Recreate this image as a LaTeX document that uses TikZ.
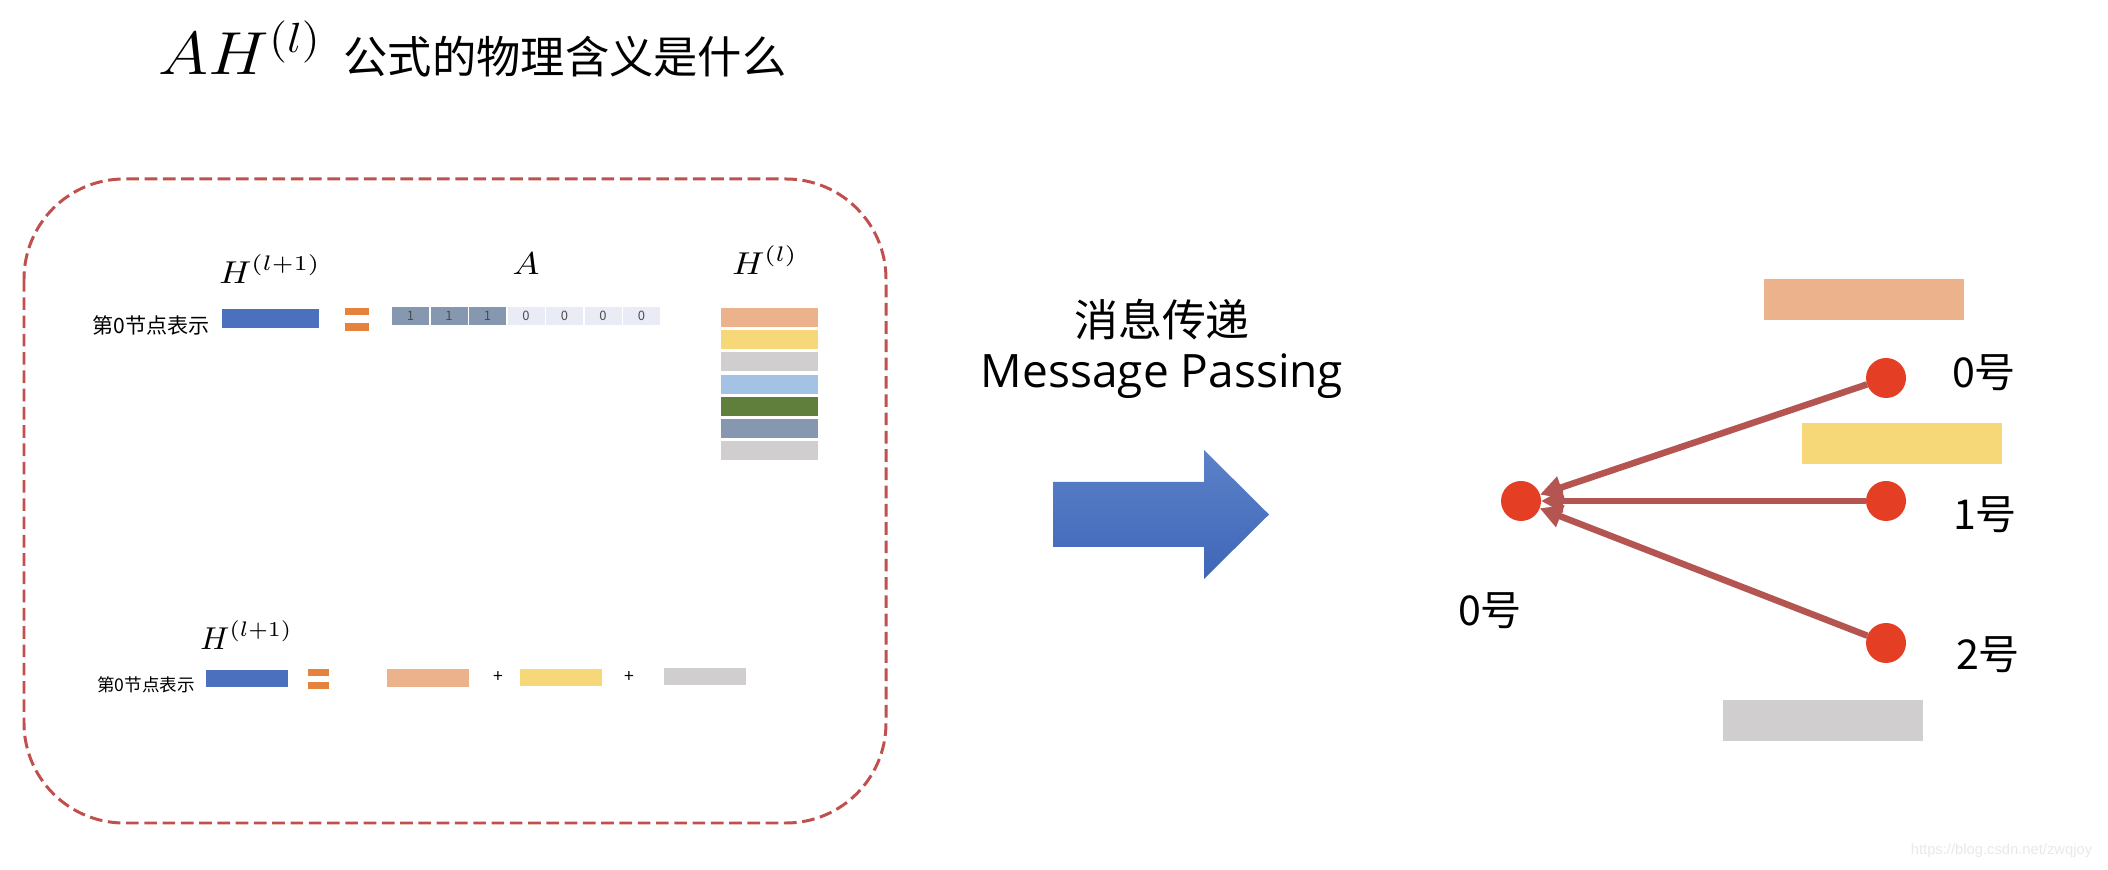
\documentclass[tikz,border=0pt]{standalone}
\usepackage{fontspec}
\newfontfamily\cjk{Noto Sans CJK SC}
\newfontfamily\latinsans{Open Sans}
\newfontfamily\wmfont{Liberation Sans}
\usetikzlibrary{arrows.meta}
\definecolor{barblue}{RGB}{74,112,190}
\definecolor{eqorange}{RGB}{228,130,62}
\definecolor{hpeach}{RGB}{235,178,140}
\definecolor{hyellow}{RGB}{247,216,120}
\definecolor{hgray}{RGB}{208,206,206}
\definecolor{hsky}{RGB}{164,194,227}
\definecolor{hgreen}{RGB}{96,127,60}
\definecolor{hslate}{RGB}{134,151,176}
\definecolor{celllight}{RGB}{233,235,245}
\definecolor{framered}{RGB}{192,80,77}
\definecolor{nodered}{RGB}{228,62,37}
\definecolor{edgered}{RGB}{181,85,82}
\definecolor{arrowtop}{RGB}{92,129,200}
\definecolor{arrowbot}{RGB}{62,103,184}
\tikzset{
  flat/.style={
    rectangle,
    inner sep=0pt,
    outer sep=0pt
  },
  feat-bar/.style={flat, minimum width=0.97cm, minimum height=0.19cm},
  sum-bar/.style={flat, minimum width=0.82cm, minimum height=0.175cm},
  big-bar/.style={flat, minimum width=2.0cm, minimum height=0.41cm},
  eq-bar/.style={flat, fill=eqorange, minimum width=0.24cm, minimum height=0.075cm},
  cell/.style={flat, minimum width=0.37cm, minimum height=0.18cm,
    text=black!70, font=\cjk\fontsize{3.7}{4}\selectfont},
  cell-dark/.style={cell, fill=hslate},
  cell-light/.style={cell, fill=celllight},
  math-label/.style={inner sep=0pt, anchor=base, font=\fontsize{8.6}{10}\selectfont},
  row-label/.style={inner sep=0pt, font=\cjk\fontsize{6}{7}\selectfont},
  num-label/.style={inner sep=0pt, font=\cjk\fontsize{11.7}{13}\selectfont},
  node-red/.style={circle, fill=nodered, minimum size=0.4cm, inner sep=0pt, outer sep=0pt},
  msg-arrow/.style={draw=edgered, line width=1.85pt, -{Triangle[length=6.3pt,width=6.3pt]}},
  panel-frame/.style={draw=framered, line width=0.85pt, dash pattern=on 3.6pt off 1.6pt, rounded corners=1cm}
}

\begin{document}
\begin{tikzpicture}
  \useasboundingbox (0,0) rectangle (21.08,-8.70);
  % title
  \node[inner sep=0pt, anchor=base west, xscale=1.12, font=\fontsize{17.9}{20}\selectfont]
    (title-math) at (1.58,-0.75) {$AH^{(l)}$};
  \node[inner sep=0pt, anchor=west, font=\cjk\fontsize{12.6}{14}\selectfont]
    (title-zh) at (3.43,-0.57) {公式的物理含义是什么};

  % left panel
  \draw[panel-frame] (0.24,-1.79) rectangle (8.86,-8.23);

  % first row: H^(l+1) = A H^(l)
  \node[math-label, xscale=1.1] (h-next) at (2.70,-2.84) {$H^{(l+1)}$};
  \node[math-label, xscale=1.1] (a-mat) at (5.26,-2.75) {$A$};
  \node[math-label, xscale=1.1] (h-cur) at (7.65,-2.75) {$H^{(l)}$};
  \node[row-label] (row-top) at (1.51,-3.25) {第0节点表示};
  \node[feat-bar, fill=barblue] (out-top) at (2.705,-3.185) {};
  \node[eq-bar] (eq-top-a) at (3.57,-3.115) {};
  \node[eq-bar] (eq-top-b) at (3.57,-3.27) {};
  \node[cell-dark] (a0) at (4.105,-3.16) {1};
  \node[cell-dark] (a1) at (4.490,-3.16) {1};
  \node[cell-dark] (a2) at (4.875,-3.16) {1};
  \node[cell-light] (a3) at (5.260,-3.16) {0};
  \node[cell-light] (a4) at (5.645,-3.16) {0};
  \node[cell-light] (a5) at (6.030,-3.16) {0};
  \node[cell-light] (a6) at (6.415,-3.16) {0};
  \node[feat-bar, fill=hpeach] (h0) at (7.695,-3.175) {};
  \node[feat-bar, fill=hyellow] (h1) at (7.695,-3.397) {};
  \node[feat-bar, fill=hgray] (h2) at (7.695,-3.619) {};
  \node[feat-bar, fill=hsky] (h3) at (7.695,-3.841) {};
  \node[feat-bar, fill=hgreen] (h4) at (7.695,-4.063) {};
  \node[feat-bar, fill=hslate] (h5) at (7.695,-4.285) {};
  \node[feat-bar, fill=hgray] (h6) at (7.695,-4.507) {};

  % second row: sum of neighbours
  \node[math-label] (h-sum) at (2.465,-6.50) {$H^{(l+1)}$};
  \node[row-label, font=\cjk\fontsize{5}{6}\selectfont] (row-bot) at (1.46,-6.85) {第0节点表示};
  \node[sum-bar, fill=barblue] (out-bot) at (2.465,-6.785) {};
  \node[eq-bar, minimum width=0.21cm, minimum height=0.07cm] (eq-bot-a) at (3.185,-6.725) {};
  \node[eq-bar, minimum width=0.21cm, minimum height=0.07cm] (eq-bot-b) at (3.185,-6.855) {};
  \node[sum-bar, fill=hpeach] (s0) at (4.275,-6.78) {};
  \node[inner sep=0pt, font=\cjk\fontsize{5}{6}\selectfont] (plus-a) at (4.98,-6.77) {+};
  \node[sum-bar, fill=hyellow] (s1) at (5.61,-6.775) {};
  \node[inner sep=0pt, font=\cjk\fontsize{5}{6}\selectfont] (plus-b) at (6.29,-6.77) {+};
  \node[sum-bar, fill=hgray] (s2) at (7.05,-6.765) {};

  % message passing
  \node[inner sep=0pt, font=\cjk\fontsize{12.5}{14}\selectfont] (mp-zh) at (11.62,-3.20) {消息传递};
  \node[inner sep=0pt, anchor=base, font=\latinsans\fontsize{13.1}{15}\selectfont] (mp-en) at (11.62,-3.88) {Message Passing};
  \shade[top color=arrowtop, bottom color=arrowbot]
    (10.53,-4.82) -- (12.04,-4.82) -- (12.04,-4.50) -- (12.69,-5.145)
    -- (12.04,-5.79) -- (12.04,-5.47) -- (10.53,-5.47) -- cycle;

  % graph
  \node[big-bar, fill=hpeach] (b0) at (18.64,-2.995) {};
  \node[big-bar, fill=hyellow] (b1) at (19.015,-4.435) {};
  \node[big-bar, fill=hgray] (b2) at (18.23,-7.205) {};
  \node[node-red] (n0) at (18.86,-3.78) {};
  \node[node-red] (n1) at (18.86,-5.01) {};
  \node[node-red] (n2) at (18.86,-6.43) {};
  \node[node-red] (c0) at (15.21,-5.01) {};
  \node[num-label] (l0) at (19.84,-3.73) {0号};
  \node[num-label] (l1) at (19.85,-5.15) {1号};
  \node[num-label] (l2) at (19.88,-6.55) {2号};
  \node[num-label] (lc) at (14.90,-6.11) {0号};
  \draw[msg-arrow] (n0) -- (c0);
  \draw[msg-arrow] (n1) -- (c0);
  \draw[msg-arrow] (n2) -- (c0);

  \node[inner sep=0pt, text=black!9, font=\wmfont\fontsize{4.2}{5}\selectfont]
    (wm) at (20.015,-8.51) {https://blog.csdn.net/zwqjoy};
\end{tikzpicture}
\end{document}
